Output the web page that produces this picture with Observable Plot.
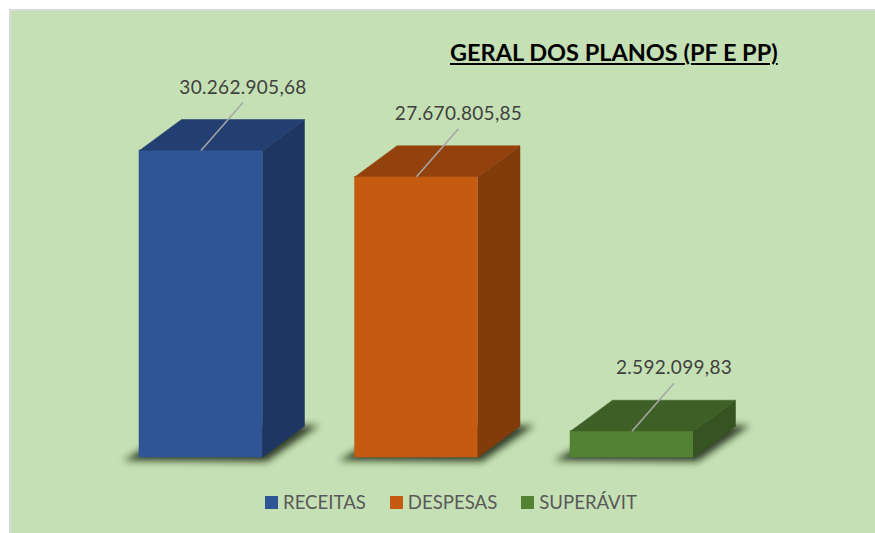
<!DOCTYPE html>
<html><head><meta charset="utf-8">
<script src="https://cdn.jsdelivr.net/npm/d3@7"></script>
<script src="https://cdn.jsdelivr.net/npm/@observablehq/plot@0.6"></script>
<style>
body{margin:0;background:#fff;}
#wrap{position:relative;width:875px;height:533px;overflow:hidden;font-family:Lato,sans-serif;}
#box{position:absolute;left:9px;top:9px;width:900px;height:600px;background:#c5e0b4;border-left:2px solid #d9d9d9;border-top:2px solid #d9d9d9;}
#chart{position:absolute;left:0;top:0}
#title{position:absolute;left:450px;top:41px;font-size:23.5px;line-height:1;font-weight:700;color:#000;text-decoration:underline;text-underline-offset:2px;text-decoration-thickness:2px;white-space:nowrap}
#legend{position:absolute;left:265px;top:493px;display:flex;align-items:center;font-size:18.6px;line-height:18px;color:#595959;white-space:nowrap}
.item{display:flex;align-items:center;margin-right:24px}
.sw{width:13px;height:13px;margin-right:5px}
</style></head><body>
<div id="wrap"><div id="box"></div><div id="chart"></div><div id="title"></div><div id="legend"></div></div>
<script>
const title = "GERAL DOS PLANOS (PF E PP)";
const categories = ["RECEITAS", "DESPESAS", "SUPERÁVIT"];
const values = [30262905.68, 27670805.85, 2592099.83];
const frontColors = ["#2f5597", "#c55a11", "#548235"];
const topColors = ["#233f72", "#94420d", "#3e6027"];
const sideColors = ["#1f3662", "#823b0b", "#365421"];

const fmt = d3.formatLocale({decimal: ",", thousands: ".", grouping: [3], currency: ["R$", ""]}).format(",.2f");

// layout (pixels)
const xRange = [200.5, 631.5];
const yRange = [457, 150];
const vmax = d3.max(values);
const pxX = (xRange[1] - xRange[0]) / (categories.length - 1);
const pxY = (yRange[0] - yRange[1]) / vmax;
const u = px => px / pxX;   // pixels -> x units
const w = px => px / pxY;   // pixels -> value units
const hw = u(61.5), dX = u(42), dY = w(31);
const lx = u(42), ly = w(48);

const bars = categories.map((c, i) => ({c, i, v: values[i], front: frontColors[i], top: topColors[i], side: sideColors[i]}));

const poly = (key, f) => bars.flatMap(b => f(b).map(([x, y]) => ({x, y, z: b.c, fill: b[key]})));
const shadowPts = bars.flatMap(b => [
  [b.i - hw - u(16), -w(3)], [b.i + hw + u(4), -w(4)], [b.i + hw + dX + u(14), dY + w(1)], [b.i - hw + dX, dY]
].map(([x, y]) => ({x, y, z: b.c})));
const topPts = poly("top", b => [[b.i - hw, b.v], [b.i - hw + dX, b.v + dY], [b.i + hw + dX, b.v + dY], [b.i + hw, b.v]]);
const sidePts = poly("side", b => [[b.i + hw, 0], [b.i + hw, b.v], [b.i + hw + dX, b.v + dY], [b.i + hw + dX, dY]]);

const chart = Plot.plot({
  width: 875, height: 533,
  style: {background: "transparent", fontFamily: "Lato"},
  x: {type: "linear", domain: [0, categories.length - 1], range: xRange, axis: null},
  y: {domain: [0, vmax], range: yRange, axis: null},
  color: {type: "identity"},
  marks: [
    Plot.line(shadowPts, {x: "x", y: "y", z: "z", fill: "#18230f", fillOpacity: 0.85, stroke: "none"}),
    Plot.rect(bars, {x1: b => b.i - hw, x2: b => b.i + hw, y1: 0, y2: "v", fill: "front", stroke: "front", strokeWidth: 0.5}),
    Plot.line(sidePts, {x: "x", y: "y", z: "z", fill: "fill", stroke: "fill", strokeWidth: 0.5}),
    Plot.line(topPts, {x: "x", y: "y", z: "z", fill: "fill", stroke: "fill", strokeWidth: 0.5}),
    Plot.link(bars, {x1: "i", y1: "v", x2: b => b.i + lx, y2: b => b.v + ly, stroke: "#a6a6a6", strokeWidth: 1.5}),
    Plot.text(bars, {x: b => b.i + lx, y: b => b.v + ly, text: b => fmt(b.v), lineAnchor: "bottom", dy: -9, fontSize: 19, fill: "#404040", fontFamily: "Lato"})
  ]
});

// blur the base shadow
const svg = d3.select(chart);
const f = svg.insert("defs", ":first-child").append("filter").attr("id", "shBlur").attr("x", "-20%").attr("y", "-50%").attr("width", "140%").attr("height", "200%");
f.append("feGaussianBlur").attr("stdDeviation", 3.5);
svg.select('g[aria-label="line"]').attr("filter", "url(#shBlur)");
svg.selectAll('g[aria-label="text"] text').style("letter-spacing", "0.3px");

document.getElementById("chart").appendChild(chart);
document.getElementById("title").textContent = title;

const legend = d3.select("#legend");
categories.forEach((c, i) => {
  const it = legend.append("div").attr("class", "item");
  it.append("div").attr("class", "sw").style("background", frontColors[i]);
  it.append("span").text(c);
});
</script>
</body></html>
